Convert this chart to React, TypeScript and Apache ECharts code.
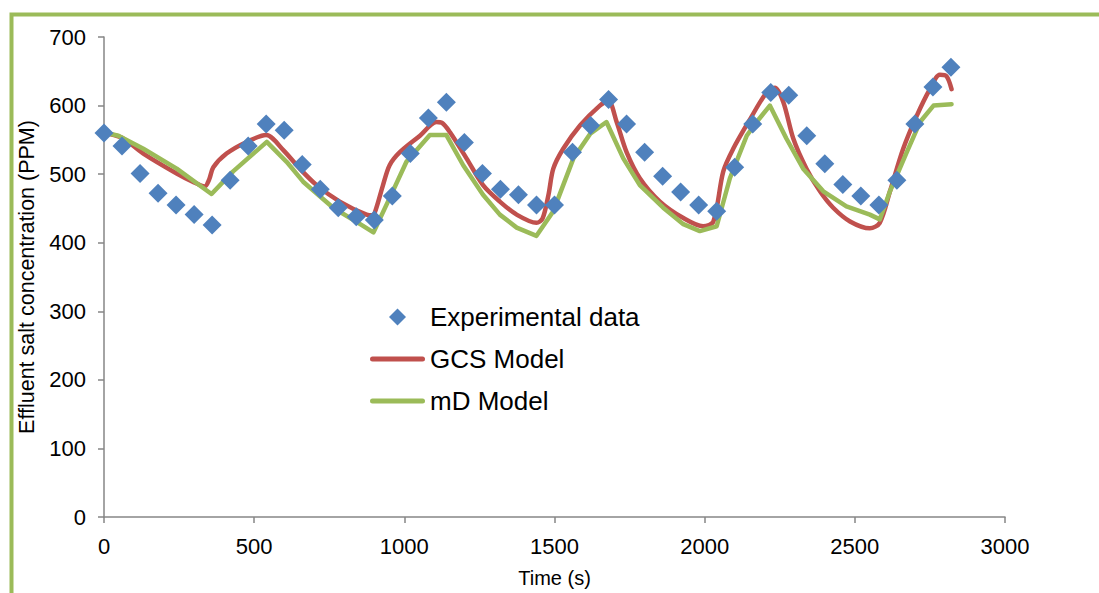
import React, { useEffect, useRef } from "react";
import * as echarts from "echarts";

const expTimes = [0, 60, 120, 180, 240, 300, 360, 420, 480, 540, 600, 660, 720, 780, 840, 900, 960, 1020, 1080, 1140, 1200, 1260, 1320, 1380, 1440, 1500, 1560, 1620, 1680, 1740, 1800, 1860, 1920, 1980, 2040, 2100, 2160, 2220, 2280, 2340, 2400, 2460, 2520, 2580, 2640, 2700, 2760, 2820];
const expValues = [560, 541, 501, 472, 455, 441, 426, 491, 541, 573, 564, 514, 478, 451, 438, 433, 468, 530, 582, 605, 546, 501, 478, 470, 455, 455, 532, 571, 609, 573, 532, 497, 474, 455, 446, 510, 573, 619, 615, 556, 515, 485, 468, 455, 491, 573, 627, 656];

const gcsModel: [number, number][] = [
  [0, 560], [60, 553], [131, 530], [242, 501], [300, 488], [335, 482], [350, 492], [364, 510], [408, 530], [475, 547], [540, 557],
  [597, 535], [652, 508], [708, 484], [785, 460], [874, 441], [895, 440], [907, 451], [929, 484], [951, 513], [985, 532],
  [1052, 556], [1107, 576], [1125, 575], [1152, 561], [1207, 523], [1262, 484], [1318, 460], [1374, 441], [1440, 429],
  [1460, 435], [1480, 470], [1496, 508], [1529, 537], [1585, 571], [1651, 600], [1679, 607], [1707, 576], [1740, 532],
  [1784, 494], [1851, 460], [1929, 436], [1995, 424], [2029, 431], [2062, 504], [2095, 537], [2151, 580], [2206, 619],
  [2234, 626], [2262, 605], [2295, 552], [2339, 508], [2384, 475], [2428, 451], [2484, 431], [2550, 421], [2583, 429],
  [2617, 475], [2661, 537], [2706, 585], [2750, 624], [2783, 645], [2805, 643], [2822, 624],
];

const mdModel: [number, number][] = [
  [0, 561], [48, 556], [131, 537], [242, 508], [358, 471], [430, 504], [542, 547], [608, 518], [663, 489], [763, 451],
  [853, 427], [897, 415], [951, 465], [1007, 518], [1085, 557], [1140, 557], [1196, 513], [1262, 470], [1318, 441],
  [1374, 422], [1440, 410], [1496, 446], [1563, 523], [1619, 559], [1673, 576], [1729, 523], [1784, 484], [1862, 451],
  [1929, 427], [1984, 417], [2040, 424], [2084, 494], [2140, 556], [2173, 576], [2217, 600], [2272, 552], [2328, 508],
  [2395, 475], [2472, 453], [2550, 441], [2583, 434], [2617, 475], [2673, 532], [2717, 576], [2762, 600], [2822, 602],
];

const legendNames = ["Experimental data", "GCS Model", "mD Model"];
const FONT = "'Liberation Sans', Arial, sans-serif";
const lineIcon = "path://M2.5,0 H52.5 A2.5,2.5 0 0 1 52.5,5 H2.5 A2.5,2.5 0 0 1 2.5,0 Z";
const diamondIcon = "path://M8.5,0 L17,8.5 L8.5,17 L0,8.5 Z";

export default function App() {
  const ref = useRef<HTMLDivElement>(null);
  useEffect(() => {
    document.body.style.margin = "0";
    const chart = echarts.init(ref.current!, null, { renderer: "svg" });
    const axisLine = { show: true, lineStyle: { color: "#868686", width: 1.5 } };
    const axisTick = { show: true, length: 6, lineStyle: { color: "#868686", width: 1.5 } };
    chart.setOption({
      animation: false,
      backgroundColor: "#ffffff",
      textStyle: { fontFamily: FONT },
      grid: { left: 104, right: 94, top: 37, bottom: 71, containLabel: false },
      graphic: [
        {
          type: "rect",
          left: 9,
          top: 12,
          shape: { width: 1200, height: 700 },
          style: { fill: "none", stroke: "#9BBB59", lineWidth: 4 },
          silent: true,
        },
      ],
      legend: {
        orient: "vertical",
        left: 370,
        top: 304,
        padding: 0,
        itemWidth: 55,
        itemHeight: 17,
        itemGap: 16,
        textStyle: { fontSize: 26, color: "#000", fontFamily: FONT },
        data: [
          { name: legendNames[0], icon: diamondIcon },
          { name: legendNames[1], icon: lineIcon },
          { name: legendNames[2], icon: lineIcon },
        ],
      },
      xAxis: {
        type: "value",
        min: 0,
        max: 3000,
        interval: 500,
        name: "Time (s)",
        nameLocation: "middle",
        nameGap: 51,
        nameTextStyle: { fontSize: 20, color: "#000", fontFamily: FONT },
        axisLine,
        axisTick,
        axisLabel: { fontSize: 22, color: "#000", margin: 18, fontFamily: FONT, formatter: (v: number) => String(v) },
        splitLine: { show: false },
      },
      yAxis: {
        type: "value",
        min: 0,
        max: 700,
        interval: 100,
        name: "Effluent salt concentration (PPM)",
        nameLocation: "middle",
        nameGap: 57,
        nameTextStyle: { fontSize: 21.5, color: "#000", fontFamily: FONT },
        axisLine,
        axisTick,
        axisLabel: { fontSize: 22, color: "#000", margin: 18, fontFamily: FONT, formatter: (v: number) => String(v) },
        splitLine: { show: false },
      },
      series: [
        {
          name: legendNames[1],
          type: "line",
          data: gcsModel,
          smooth: 0.3,
          symbol: "none",
          z: 2,
          itemStyle: { color: "#C0504D" },
          lineStyle: { color: "#C0504D", width: 4.5, cap: "round", join: "round" },
        },
        {
          name: legendNames[2],
          type: "line",
          data: mdModel,
          smooth: false,
          symbol: "none",
          z: 3,
          itemStyle: { color: "#9BBB59" },
          lineStyle: { color: "#9BBB59", width: 4.5, cap: "round", join: "round" },
        },
        {
          name: legendNames[0],
          type: "scatter",
          data: expTimes.map((t, i) => [t, expValues[i]]),
          symbol: "diamond",
          symbolSize: 19,
          z: 4,
          itemStyle: { color: "#4F81BD", opacity: 1 },
        },
      ],
    });
    return () => chart.dispose();
  }, []);
  return <div ref={ref} style={{ width: 1099, height: 593 }} />;
}
